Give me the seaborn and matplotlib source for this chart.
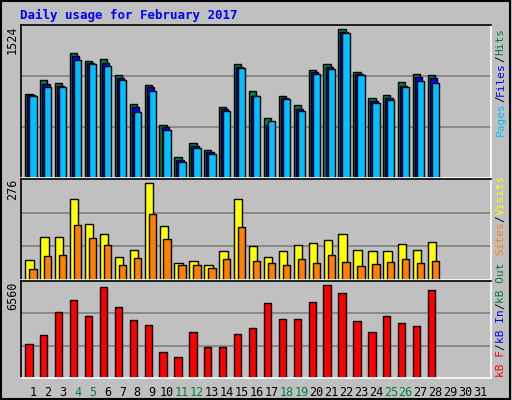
"""
Daily usage for February 2017 (Webalizer style, three stacked panels)
"""

import numpy as np
import pandas as pd
import matplotlib
matplotlib.use('Agg')
import matplotlib.pyplot as plt
import seaborn as sns


## Data
days = list(range(1, 29))
hits = [839, 979, 949, 1250, 1170, 1190, 1030, 739, 929, 528, 207, 348, 278, 709,
        1140, 869, 598, 819, 729, 1080, 1140, 1480, 1060, 799, 829, 959, 1040, 1030]
files = [829, 939, 919, 1220, 1150, 1150, 999, 709, 909, 508, 177, 318, 258, 689,
         1110, 819, 528, 799, 689, 1060, 1110, 1450, 1040, 769, 799, 919, 1010, 999]
pages = [819, 909, 909, 1180, 1140, 1120, 979, 659, 869, 478, 157, 298, 238, 669,
         1100, 819, 568, 789, 669, 1040, 1090, 1440, 1030, 749, 779, 909, 969, 949]
visits = [55, 118, 118, 221, 152, 126, 63, 83, 264, 147, 46, 52, 40, 80,
          221, 92, 63, 80, 95, 101, 109, 126, 83, 78, 78, 98, 83, 103]
sites = [29, 66, 69, 149, 115, 95, 40, 60, 181, 112, 40, 40, 34, 57,
         144, 52, 46, 40, 57, 46, 69, 49, 37, 43, 49, 57, 46, 52]
kbytes = [2294, 2913, 4496, 5253, 4221, 6147, 4771, 3945, 3601, 1743, 1399, 3120, 2087, 2087,
          2982, 3395, 5047, 4014, 4014, 5115, 6285, 5735, 3877, 3120, 4221, 3739, 3532, 5941]
weekend = [4, 5, 11, 12, 18, 19, 25, 26]
max_hits, max_visits, max_kb = 1524, 276, 6560

## Colours
c_hits, c_files, c_pages = '#008040', '#0000FF', '#00C0FF'
c_visits, c_sites, c_kb = '#FFFF00', '#FF8000', '#FF0000'
bg = '#C0C0C0'
mono = 'DejaVu Sans Mono'


def bars(ax, offset, values, color, width):
    x = np.array(days) + offset
    df = pd.DataFrame({'x': x, 'y': values})
    sns.barplot(ax=ax, data=df, x='x', y='y', native_scale=True, width=width,
                color=color, edgecolor='black', linewidth=1, saturation=1)


sns.set_theme(style='white')
plt.rcParams['font.family'] = [mono, 'DejaVu Sans']

fig = plt.figure(figsize=(5.12, 4), dpi=100, facecolor=bg)
fig.patches.append(plt.Rectangle((0.002, 0.003), 0.995, 0.994, transform=fig.transFigure,
                                 fill=False, edgecolor='black', linewidth=1.5))

left, width = 0.041, 0.918
ax1 = fig.add_axes([left, 0.555, width, 0.3825])
ax2 = fig.add_axes([left, 0.300, width, 0.2525])
ax3 = fig.add_axes([left, 0.055, width, 0.2425])

bars(ax1, -0.27, hits, c_hits, 0.49)
bars(ax1, -0.13, files, c_files, 0.49)
bars(ax1, 0.0, pages, c_pages, 0.49)
bars(ax2, -0.23, visits, c_visits, 0.56)
bars(ax2, 0.0, sites, c_sites, 0.49)
bars(ax3, -0.27, kbytes, c_kb, 0.49)

for ax, top in [(ax1, max_hits), (ax2, max_visits), (ax3, max_kb)]:
    ax.set_facecolor(bg)
    ax.set_xlim(0.2, 31.72)
    ax.set_ylim(0, top)
    for g in (top / 3, 2 * top / 3):
        ax.axhline(g, color='#808080', linewidth=1.2, zorder=0)
    ax.set_xticks([])
    ax.set_yticks([])
    ax.set_xlabel('')
    ax.set_ylabel('')
    for s in ['top', 'left']:
        ax.spines[s].set_color('black')
    for s in ['bottom', 'right']:
        ax.spines[s].set_color('white')
    for s in ax.spines.values():
        s.set_linewidth(1.2)
    ax.text(-0.018, 1.0, str(top), transform=ax.transAxes, rotation=90,
            ha='center', va='top', fontsize=8.5, color='black')

# Day labels under the bottom panel
for d in range(1, 32):
    ax3.text(d, -0.08, str(d), transform=ax3.get_xaxis_transform(), ha='center', va='top',
             fontsize=8.5, color=c_hits if d in weekend else 'black')

fig.text(0.039, 0.962, 'Daily usage for February 2017', color='#0000FF',
         fontsize=9, fontweight='bold', ha='left', va='center')

renderer = fig.canvas.get_renderer()


def side_label(parts, y0):
    # stacked vertical legend text at the right edge, reading bottom to top
    y = y0
    for txt, col in parts:
        t = fig.text(0.978, y, txt, rotation=90, color=col, fontsize=8,
                     ha='center', va='bottom')
        ext = t.get_window_extent(renderer)
        y += ext.height / fig.bbox.height


side_label([('Pages', c_pages), ('/', 'black'), ('Files', c_files),
            ('/', 'black'), ('Hits', c_hits)], 0.66)
side_label([('kB F', c_kb), ('/', 'black'), ('kB In', c_files), ('/', 'black'),
            ('kB Out', c_hits), (' ', 'black'), ('Sites', c_sites), ('/', 'black'),
            ('Visits', c_visits)], 0.058)

plt.savefig('out.png', dpi=100, facecolor=bg)
